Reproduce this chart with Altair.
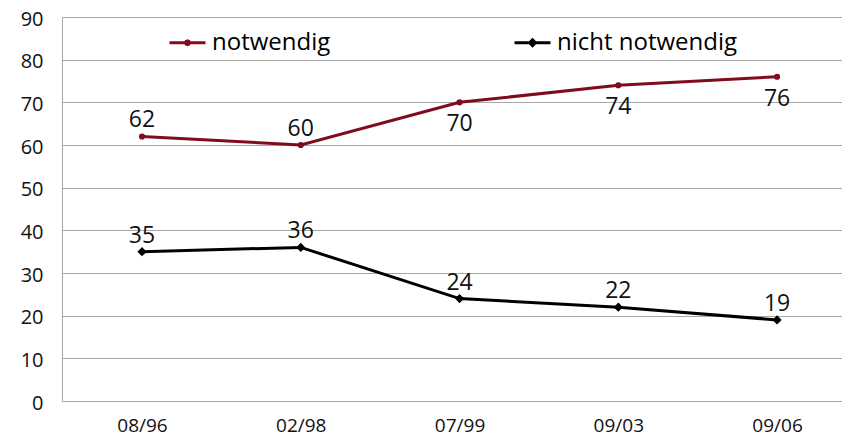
import altair as alt
import pandas as pd

dates = ["08/96", "02/98", "07/99", "09/03", "09/06"]
notwendig = [62, 60, 70, 74, 76]
nicht_notwendig = [35, 36, 24, 22, 19]
series_names = ["notwendig", "nicht notwendig"]
labels_below = {"notwendig": ["07/99", "09/03", "09/06"], "nicht notwendig": []}

rows = []
for s, vals in zip(series_names, [notwendig, nicht_notwendig]):
    for i, (d, v) in enumerate(zip(dates, vals)):
        rows.append({"i": i, "date": d, "series": s, "value": v,
                     "below": d in labels_below[s]})
df = pd.DataFrame(rows)

FONT = "Open Sans"
RED = "#7f0c1e"
GRID = "#a8a8a8"

color_scale = alt.Scale(domain=series_names, range=[RED, "#000000"])
# legend symbols: a line with the series marker in the middle
legend_paths = [
    "M-1,0H1M0.11,0L0.078,0.078L0,0.11L-0.078,0.078L-0.11,0L-0.078,-0.078L0,-0.11L0.078,-0.078Z",
    "M-1,0H1M0,-0.16L0.16,0L0,0.16L-0.16,0Z",
]
legend_shape_scale = alt.Scale(domain=series_names, range=legend_paths)

legend = alt.Legend(
    title=None, orient="none", legendX=106, legendY=6, direction="horizontal",
    labelFont=FONT, labelFontSize=24, labelColor="#000000", padding=0,
    labelLimit=400,
    symbolSize=1296, symbolStrokeWidth=3, labelOffset=5, columnPadding=177,
)

label_expr = "[" + ",".join(f"'{d}'" for d in dates) + "][datum.value]"
x = alt.X("i:Q", scale=alt.Scale(domain=[-0.504, 4.409], nice=False, zero=False),
          axis=alt.Axis(title=None, values=list(range(len(dates))), labelExpr=label_expr,
                        ticks=False, domainColor=GRID,
                        labelFont=FONT, labelFontSize=19, labelPadding=15,
                        labelColor="#111111", grid=False))
y = alt.Y("value:Q", scale=alt.Scale(domain=[0, 90]),
          axis=alt.Axis(title=None, values=list(range(0, 100, 10)), ticks=False,
                        domainColor=GRID, gridColor=GRID, gridOpacity=1,
                        labelFont=FONT, labelFontSize=20, labelPadding=19,
                        labelOffset=2, labelColor="#111111"))
color = alt.Color("series:N", scale=color_scale, legend=legend)

base = alt.Chart(df)

legend_layer = base.mark_point(filled=False, strokeWidth=3, opacity=1).encode(
    x=x, y=y, color=color,
    shape=alt.Shape("series:N", scale=legend_shape_scale, legend=legend),
).transform_filter(alt.datum.value < 0)

lines = base.mark_line(strokeWidth=3).encode(x=x, y=y, color=color, detail="series:N")

points_red = base.mark_point(filled=True, opacity=1, shape="circle", size=38).encode(
    x=x, y=y, color=color,
).transform_filter(alt.datum.series == series_names[0])

points_black = base.mark_point(filled=True, opacity=1, shape="diamond", size=85).encode(
    x=x, y=y, color=color,
).transform_filter(alt.datum.series == series_names[1])

text_above = base.mark_text(dy=-16, fontSize=23, font=FONT, color="#111111").encode(
    x=x, y=y, text="value:Q"
).transform_filter("!datum.below")

text_below = base.mark_text(dy=22, fontSize=23, font=FONT, color="#111111").encode(
    x=x, y=y, text="value:Q"
).transform_filter("datum.below")

chart = alt.layer(legend_layer, lines, points_red, points_black, text_above, text_below).properties(
    width=780, height=384,
    autosize=alt.AutoSizeParams(type="none"),
    padding={"left": 54, "top": 9, "right": 0, "bottom": 35},
).configure_view(fill="#e4e4e4", stroke=None).configure(background="#ffffff")

chart.save("out.html", embed_options={"renderer": "svg", "actions": False})
